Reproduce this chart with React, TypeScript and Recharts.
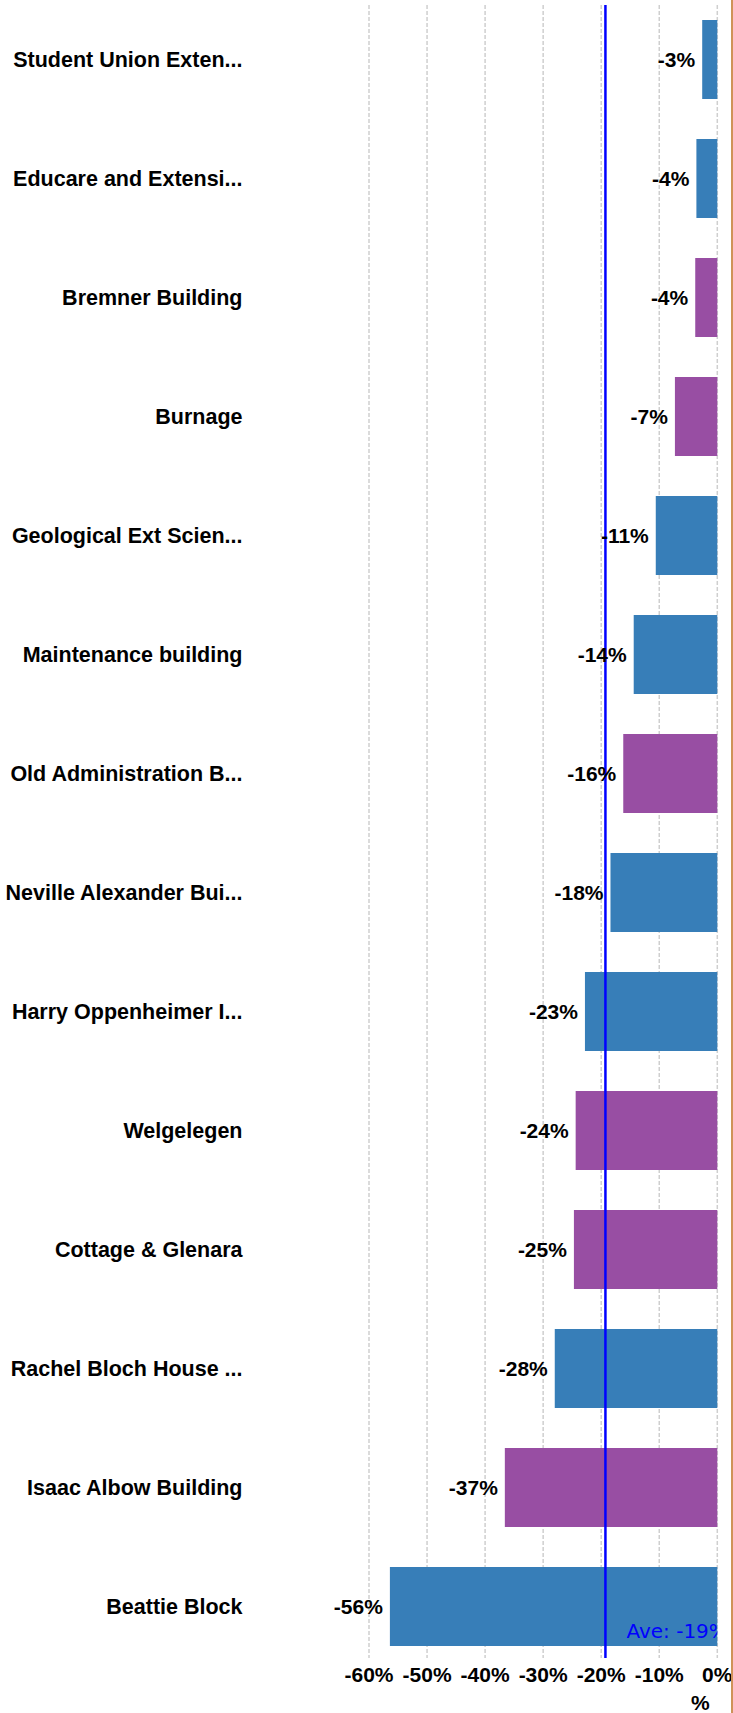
import React from 'react'
import {
  Bar,
  BarChart,
  CartesianGrid,
  Cell,
  LabelList,
  ReferenceLine,
  XAxis,
  YAxis,
} from 'recharts'

const buildings = [
  'Student Union Exten...',
  'Educare and Extensi...',
  'Bremner Building',
  'Burnage',
  'Geological Ext Scien...',
  'Maintenance building',
  'Old Administration B...',
  'Neville Alexander Bui...',
  'Harry Oppenheimer I...',
  'Welgelegen',
  'Cottage & Glenara',
  'Rachel Bloch House ...',
  'Isaac Albow Building',
  'Beattie Block',
]

// % change per building
const changes = [
  -2.6, -3.6, -3.8, -7.3, -10.6, -14.4, -16.2, -18.4, -22.8, -24.4, -24.7,
  -28.0, -36.6, -56.4,
]

// colour group per building
const groups = [
  'a', 'a', 'b', 'b', 'a', 'a', 'b', 'a', 'a', 'b', 'b', 'a', 'b', 'a',
]

const xTicks = [-60, -50, -40, -30, -20, -10, 0]

const GROUP_COLORS: Record<string, string> = { a: '#377EB8', b: '#984EA3' }

const CHART_W = 733
const CHART_H = 1713
const MARGIN = { top: 0, right: 15.7, bottom: 0, left: 0 }
const Y_AXIS_W = 369
const X_AXIS_H = 47
const GRID_TOP = 5
const GRID_BOTTOM = 1658
const FONT = '"Liberation Sans", Arial, sans-serif'

const data = buildings.map((name, i) => ({
  name,
  change: changes[i],
  group: groups[i],
}))

const average = changes.reduce((s, v) => s + v, 0) / changes.length

const ValueLabel = (props: any) => {
  const { x, y, width, height, value } = props
  const left = Math.min(Number(x), Number(x) + Number(width))
  return (
    <text
      x={left - 7}
      y={Number(y) + Number(height) / 2}
      textAnchor='end'
      dominantBaseline='central'
      fontSize={21}
      fontWeight='bold'
      fontFamily={FONT}
      fill='#000'
    >
      {`${Math.round(value)}%`}
    </text>
  )
}

const AvgLine = (props: any) => (
  <line
    x1={props.x1}
    x2={props.x2}
    y1={GRID_TOP}
    y2={GRID_BOTTOM}
    stroke='#0000ff'
    strokeWidth={2.5}
  />
)

const AveLabel = (props: any) => {
  const { viewBox } = props
  if (!viewBox) return null
  const clipRight = CHART_W - MARGIN.right
  return (
    <g>
      <defs>
        <clipPath id='ave-clip'>
          <rect x={0} y={0} width={clipRight} height={CHART_H} />
        </clipPath>
      </defs>
      <text
        clipPath='url(#ave-clip)'
        x={viewBox.x + 21}
        y={viewBox.y + viewBox.height - 28}
        fontSize={20}
        fontFamily='"DejaVu Sans", Verdana, sans-serif'
        fill='#0000ff'
      >
        {`Ave: ${Math.round(average)}%`}
      </text>
    </g>
  )
}

const UnitLabel = (props: any) => {
  const { viewBox } = props
  if (!viewBox) return null
  return (
    <text
      x={viewBox.x + viewBox.width - 17}
      y={viewBox.y + viewBox.height - 3}
      textAnchor='middle'
      fontSize={21}
      fontWeight='bold'
      fontFamily={FONT}
      fill='#000'
    >
      %
    </text>
  )
}

const App = (): JSX.Element => {
  return (
    <div style={{ position: 'relative', width: CHART_W, height: CHART_H, background: '#fff' }}>
      <style>{'body{margin:0}'}</style>
      <BarChart
        width={CHART_W}
        height={CHART_H}
        data={data}
        layout='vertical'
        margin={MARGIN}
        barCategoryGap={20}
      >
        <CartesianGrid
          horizontal={false}
          stroke='#cfcfcf'
          strokeWidth={1.5}
          strokeDasharray='4 2'
          y={GRID_TOP}
          height={GRID_BOTTOM - GRID_TOP}
        />
        <XAxis
          type='number'
          domain={[-60, 0]}
          ticks={xTicks}
          interval={0}
          tickFormatter={(v: number) => `${v}%`}
          axisLine={false}
          tickLine={false}
          tickSize={0}
          tickMargin={1}
          height={X_AXIS_H}
          tick={{ fill: '#000', fontSize: 21, fontWeight: 'bold', fontFamily: FONT }}
          label={<UnitLabel />}
        />
        <YAxis
          type='category'
          dataKey='name'
          width={Y_AXIS_W}
          interval={0}
          axisLine={false}
          tickLine={false}
          tickSize={0}
          tickMargin={126.5}
          tick={{ fill: '#000', fontSize: 21.5, fontWeight: 'bold', fontFamily: FONT }}
        />
        <Bar dataKey='change' isAnimationActive={false}>
          {data.map((d) => (
            <Cell key={d.name} fill={GROUP_COLORS[d.group]} />
          ))}
          <LabelList dataKey='change' content={<ValueLabel />} />
        </Bar>
        <ReferenceLine
          x={average}
          shape={<AvgLine />}
          label={<AveLabel />}
        />
      </BarChart>
      {/* frame edge on the right */}
      <div
        style={{
          position: 'absolute',
          left: 730.8,
          top: 0,
          width: 1.8,
          height: CHART_H,
          background: '#cf9258',
        }}
      />
    </div>
  )
}

export default App
